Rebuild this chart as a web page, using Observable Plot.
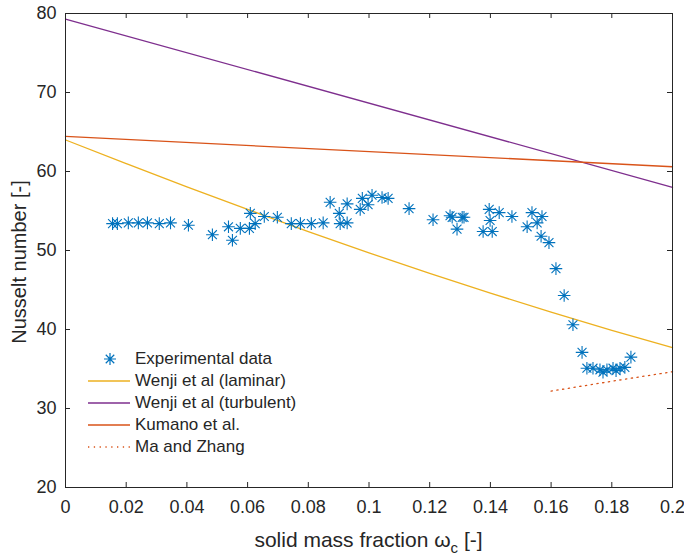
<!DOCTYPE html>
<html>
<head>
<meta charset="utf-8">
<script src="https://cdn.jsdelivr.net/npm/d3@7"></script>
<script src="https://cdn.jsdelivr.net/npm/@observablehq/plot@0.6"></script>
<style>
  html, body { margin: 0; padding: 0; background: #fff; }
  #wrap { position: relative; width: 684px; height: 556px; font-family: "Liberation Sans", Arial, sans-serif; color: #262626; }
  .xtitle { position: absolute; left: 65px; width: 607px; top: 529px; text-align: center; font-size: 21px; line-height: 1; white-space: nowrap; }
  .xtitle sub { font-size: 15px; vertical-align: -6px; line-height: 0; }
  .ytitle { position: absolute; left: 19px; top: 262px; font-size: 20px; line-height: 1; white-space: nowrap; transform: translate(-50%, -50%) rotate(-90deg); }
  .legend { position: absolute; left: 86px; top: 348px; font-size: 17px; }
  .legend .row { display: flex; align-items: center; height: 22px; }
  .legend svg { display: block; margin-right: 5px; }
</style>
</head>
<body>
<div id="wrap">
  <div id="chart"></div>
  <div class="ytitle">Nusselt number [-]</div>
  <div class="xtitle">solid mass fraction ω<sub>c</sub> [-]</div>
  <div class="legend" id="legend"></div>
</div>
<script>
// ---- data ----
const expX = [0.0155, 0.0171, 0.0207, 0.024, 0.027, 0.0309, 0.0346, 0.0405, 0.0484, 0.0537, 0.055, 0.0576, 0.0609, 0.0606, 0.0625,
  0.0655, 0.0698, 0.0744, 0.0774, 0.081, 0.0849, 0.0872, 0.0902, 0.0905, 0.0928, 0.0928, 0.0971, 0.0978, 0.0997, 0.101, 0.1043, 0.1063, 0.1132, 0.1211, 0.1267,
  0.1274, 0.129, 0.1307, 0.1313, 0.1376, 0.1396, 0.1399, 0.1406, 0.1429, 0.1471, 0.1521, 0.1537, 0.1554, 0.157, 0.1567, 0.1593, 0.1616, 0.1643, 0.1672, 0.1702,
  0.1718, 0.1738, 0.1761, 0.1771, 0.1784, 0.1804, 0.1814, 0.1827, 0.1843, 0.1863];
const expY = [53.4, 53.4, 53.5, 53.5, 53.5, 53.4, 53.5, 53.2, 52.0, 53.0, 51.3, 52.8, 54.7, 52.8, 53.4,
  54.3, 54.2, 53.4, 53.4, 53.4, 53.5, 56.1, 54.7, 53.4, 55.9, 53.5, 55.2, 56.6, 55.8, 57.0, 56.7, 56.6, 55.3, 53.9, 54.4,
  54.2, 52.7, 54.2, 54.2, 52.4, 55.2, 53.8, 52.4, 54.8, 54.3, 53.0, 54.8, 53.5, 54.3, 51.8, 51.0, 47.7, 44.3, 40.6, 37.1,
  35.1, 35.1, 34.9, 34.6, 34.9, 35.1, 34.8, 35.1, 35.2, 36.5];

const lamX = [0, 0.02, 0.04, 0.06, 0.08, 0.1, 0.12, 0.14, 0.16, 0.18, 0.2];
const lamY = [64.0, 61.0, 58.05, 55.2, 52.4, 49.7, 47.1, 44.6, 42.2, 39.9, 37.7];
const turbX = [0, 0.2];
const turbY = [79.3, 58.0];
const kumX = [0, 0.2];
const kumY = [64.45, 60.6];
const maX = [0.16, 0.18, 0.2];
const maY = [32.2, 33.45, 34.65];

const xTicks = [0, 0.02, 0.04, 0.06, 0.08, 0.1, 0.12, 0.14, 0.16, 0.18, 0.2];
const yTicks = [20, 30, 40, 50, 60, 70, 80];
const seriesNames = ["Experimental data", "Wenji et al (laminar)", "Wenji et al (turbulent)", "Kumano et al.", "Ma and Zhang"];

// ---- styling ----
const C = {exp: "#0072BD", lam: "#EDB120", turb: "#7E2F8E", kum: "#D95319", ma: "#D95319", axis: "#262626"};
const W = 684, H = 556, mt = 13, mr = 12, mb = 69, ml = 65;
const iw = W - ml - mr, ih = H - mt - mb, tl = 5;

// MATLAB-style 8-armed asterisk
const asterisk8 = {
  draw(ctx, size) {
    const r = Math.sqrt(size / Math.PI), d = r * Math.SQRT1_2;
    ctx.moveTo(-r, 0); ctx.lineTo(r, 0);
    ctx.moveTo(0, -r); ctx.lineTo(0, r);
    ctx.moveTo(-d, -d); ctx.lineTo(d, d);
    ctx.moveTo(-d, d); ctx.lineTo(d, -d);
  }
};

const zip = (xs, ys) => xs.map((x, i) => ({x, y: ys[i]}));
const exp = zip(expX, expY), lam = zip(lamX, lamY), turb = zip(turbX, turbY), kum = zip(kumX, kumY), ma = zip(maX, maY);

const chart = Plot.plot({
  width: W, height: H,
  marginTop: mt, marginRight: mr, marginBottom: mb, marginLeft: ml,
  style: {fontFamily: "'Liberation Sans', Arial, sans-serif", fontSize: "18px", color: C.axis, background: "white", overflow: "visible"},
  x: {domain: [0, 0.2]},
  y: {domain: [20, 80]},
  marks: [
    Plot.line(lam, {x: "x", y: "y", stroke: C.lam, strokeWidth: 1.3, curve: "monotone-x"}),
    Plot.line(turb, {x: "x", y: "y", stroke: C.turb, strokeWidth: 1.3}),
    Plot.line(kum, {x: "x", y: "y", stroke: C.kum, strokeWidth: 1.3}),
    Plot.line(ma, {x: "x", y: "y", stroke: C.ma, strokeWidth: 1.3, strokeDasharray: "1.3,4.5"}),
    Plot.dot(exp, {x: "x", y: "y", symbol: asterisk8, r: 6.3, stroke: C.exp, strokeWidth: 1.1}),
    Plot.frame({stroke: C.axis, strokeWidth: 1}),
    Plot.tickX(xTicks, {x: d => d, insetTop: ih - tl, stroke: C.axis}),
    Plot.tickX(xTicks, {x: d => d, insetBottom: ih - tl, stroke: C.axis}),
    Plot.tickY(yTicks, {y: d => d, insetRight: iw - tl, stroke: C.axis}),
    Plot.tickY(yTicks, {y: d => d, insetLeft: iw - tl, stroke: C.axis}),
    Plot.axisX({ticks: xTicks, tickFormat: d => d.toString(), tickSize: 0, tickPadding: 13, label: null, anchor: "bottom"}),
    Plot.axisY({ticks: yTicks, tickFormat: d => d.toString(), tickSize: 0, tickPadding: 9, label: null, anchor: "left"})
  ]
});
document.getElementById("chart").appendChild(chart);

// ---- legend ----
const legend = d3.select("#legend");
const swatches = [
  {name: seriesNames[0], type: "marker", color: C.exp},
  {name: seriesNames[1], type: "line", color: C.lam},
  {name: seriesNames[2], type: "line", color: C.turb},
  {name: seriesNames[3], type: "line", color: C.kum},
  {name: seriesNames[4], type: "dot", color: C.ma}
];
for (const s of swatches) {
  const row = legend.append("div").attr("class", "row");
  const sv = row.append("svg").attr("width", 44).attr("height", 16);
  if (s.type === "marker") {
    const p = d3.path(); asterisk8.draw(p, Math.PI * 36);
    sv.append("path").attr("d", p.toString()).attr("transform", "translate(24,8)")
      .attr("stroke", s.color).attr("stroke-width", 1.2).attr("fill", "none");
  } else {
    sv.append("line").attr("x1", 2).attr("x2", 44).attr("y1", 8).attr("y2", 8)
      .attr("stroke", s.color).attr("stroke-width", 1.3)
      .attr("stroke-dasharray", s.type === "dot" ? "1.3,4.5" : null);
  }
  row.append("span").text(s.name);
}
</script>
</body>
</html>
